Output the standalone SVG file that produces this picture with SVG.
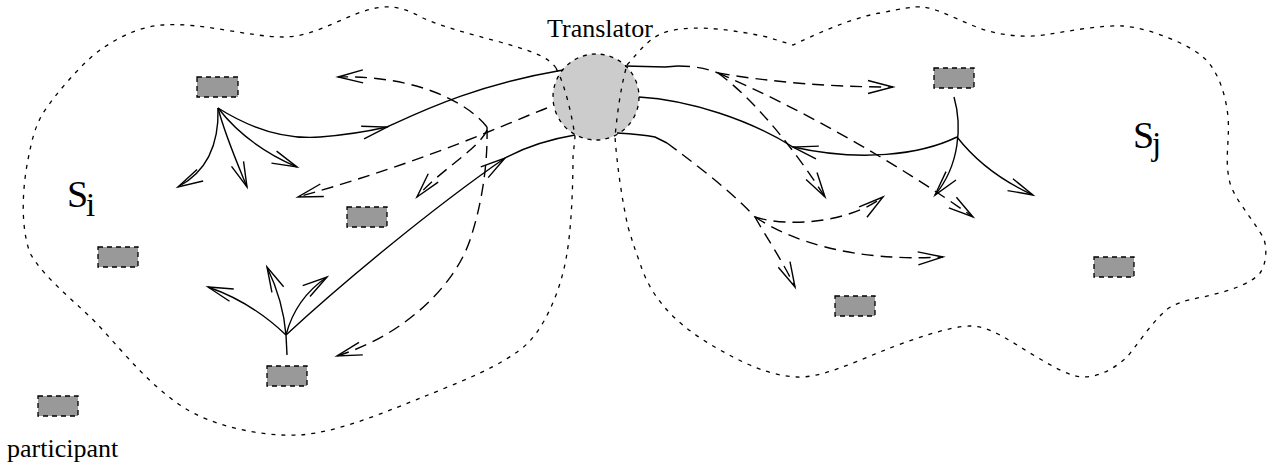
<svg xmlns="http://www.w3.org/2000/svg" width="1278" height="466" viewBox="0 0 1278 466">
<style>
.node rect { fill:#999999; stroke:#000; stroke-width:1.3; stroke-dasharray:5 4; }
.region { fill:none; stroke:#000; stroke-width:1.3; stroke-dasharray:4 6; }
.solid { fill:none; stroke:#000; stroke-width:1.4; }
.dash { fill:none; stroke:#000; stroke-width:1.4; stroke-dasharray:12 7; }
text { fill:#000; }
</style>
<defs>
<marker id="ah" markerUnits="userSpaceOnUse" markerWidth="40" markerHeight="20" viewBox="-30 -10 40 20" refX="0" refY="0" orient="auto" overflow="visible">
<path d="M-25,-6.5 L0,0 L-25,6.5" fill="none" stroke="#000" stroke-width="1.4" stroke-dasharray="none"/>
</marker>
</defs>
<rect width="1278" height="466" fill="#fff"/>

<g id="translator">
<circle cx="596" cy="97" r="43" fill="#cccccc" stroke="#000" stroke-width="1.3" stroke-dasharray="4 5"/>
<text x="547" y="37" font-family="Liberation Serif, DejaVu Serif, serif" font-size="26">Translator</text>
</g>

<g id="regions">
<path id="region-si" class="region" d="M556,68 C548,56 528,50 500,42 C470,34 440,26 423,18 C410,11 398,6 383,7 C350,10 320,37 283,37 C250,37 200,22 163,25 C135,27 115,40 100,50 C80,65 55,95 43,113 C35,127 32,140 30,150 C22,185 20,225 30,253 C45,280 80,305 100,327 C130,360 150,385 183,407 C210,425 260,437 300,435 C340,432 390,410 423,397 C460,382 505,365 528,343 C550,320 563,280 567,253 C571,230 573,190 573,157 L575,137 C572,115 565,85 556,68 Z"/>
<path id="region-sj" class="region" d="M627,65 C640,50 650,38 663,33 C685,25 720,27 767,37 L793,45 C810,37 850,18 880,13 C900,9 915,6 923,7 C945,10 970,28 997,33 C1015,37 1035,37 1050,34 C1070,31 1100,25 1123,26 C1150,28 1190,45 1203,57 C1218,70 1226,95 1228,117 C1230,140 1224,160 1230,183 C1235,200 1250,215 1263,237 C1268,248 1266,265 1260,273 C1250,285 1225,292 1203,297 C1185,300 1170,305 1163,313 C1150,325 1135,348 1127,357 C1115,368 1100,377 1083,377 C1070,377 1050,365 1030,353 C1010,341 990,326 970,326 C950,326 910,340 880,352 C850,364 820,378 797,377 C770,376 745,363 733,357 C710,345 685,330 667,310 C655,297 645,280 640,263 C635,250 632,240 628,227 C622,200 617,165 615,137 C617,115 621,85 627,65 Z"/>
<text x="67" y="207" font-family="Liberation Serif, DejaVu Serif, serif" font-size="38">S</text>
<text x="86" y="216" font-family="Liberation Serif, DejaVu Serif, serif" font-size="33">i</text>
<text x="1133" y="148" font-family="Liberation Serif, DejaVu Serif, serif" font-size="38">S</text>
<text x="1152" y="155" font-family="Liberation Serif, DejaVu Serif, serif" font-size="33">j</text>
</g>

<g id="n1" class="node"><rect x="197" y="77" width="41" height="20"/></g>
<g id="n2" class="node"><rect x="347" y="207" width="40" height="20"/></g>
<g id="n3" class="node"><rect x="98" y="247" width="40" height="20"/></g>
<g id="n4" class="node"><rect x="267" y="366" width="40" height="20"/></g>
<g id="n5" class="node"><rect x="38" y="396" width="40" height="20"/><text x="7" y="457" font-family="Liberation Serif, DejaVu Serif, serif" font-size="26">participant</text></g>
<g id="n6" class="node"><rect x="934" y="68" width="40" height="20"/></g>
<g id="n7" class="node"><rect x="835" y="296" width="40" height="20"/></g>
<g id="n8" class="node"><rect x="1094" y="257" width="40" height="20"/></g>

<g id="connectors">
<path class="solid" marker-end="url(#ah)" d="M218,108 C219,140 210,170 178,187"/>
<path class="solid" marker-end="url(#ah)" d="M218,108 C225,135 238,165 247,187"/>
<path class="solid" marker-end="url(#ah)" d="M218,108 C235,130 262,152 297,167"/>
<path class="solid" marker-end="url(#ah)" d="M218,108 C245,125 280,140 320,137 C345,135 365,132 387,127"/>
<path class="solid" d="M387,127 C420,112 475,85 563,70"/>
<path class="solid" d="M287,355 L286,335"/>
<path class="solid" marker-end="url(#ah)" d="M286,335 C265,315 240,298 208,287"/>
<path class="solid" marker-end="url(#ah)" d="M286,335 C284,310 278,290 267,267"/>
<path class="solid" marker-end="url(#ah)" d="M286,335 C292,312 305,292 327,277"/>
<path class="solid" marker-end="url(#ah)" d="M286,335 C340,285 430,210 505,158"/>
<path class="solid" d="M505,158 C520,150 545,140 575,135"/>
<path class="solid" marker-end="url(#ah)" d="M954,97 C962,125 960,165 935,195"/>
<path class="solid" marker-end="url(#ah)" d="M957,137 C975,160 1000,180 1033,195"/>
<path class="solid" marker-end="url(#ah)" d="M957,137 C920,155 860,162 793,147"/>
<path class="solid" d="M793,147 C750,120 690,100 639,97"/>
<path class="solid" d="M625,66 L665,67 L678,66"/>
<path class="solid" d="M617,133 C635,134 650,136 655,137 L667,143"/>
<path class="dash" marker-end="url(#ah)" d="M547,108 C510,122 430,160 298,197"/>
<path class="dash" marker-end="url(#ah)" d="M487,130 C480,148 440,170 417,197"/>
<path class="dash" marker-end="url(#ah)" d="M487,127 C470,105 420,75 338,77"/>
<path class="dash" marker-end="url(#ah)" d="M487,127 C488,170 480,210 470,240 C455,285 405,335 337,356"/>
<path class="dash" d="M678,66 C695,66 708,69 718,73"/>
<path class="dash" marker-end="url(#ah)" d="M718,73 C770,82 830,87 893,87"/>
<path class="dash" marker-end="url(#ah)" d="M718,73 C800,108 900,165 973,217"/>
<path class="dash" marker-end="url(#ah)" d="M718,73 C755,100 795,150 825,197"/>
<path class="dash" d="M667,143 C690,160 730,190 755,217"/>
<path class="dash" marker-end="url(#ah)" d="M755,217 C790,228 850,222 883,197"/>
<path class="dash" marker-end="url(#ah)" d="M755,217 C790,240 850,262 943,257"/>
<path class="dash" marker-end="url(#ah)" d="M755,217 C765,235 782,260 795,287"/>
</g>
</svg>
